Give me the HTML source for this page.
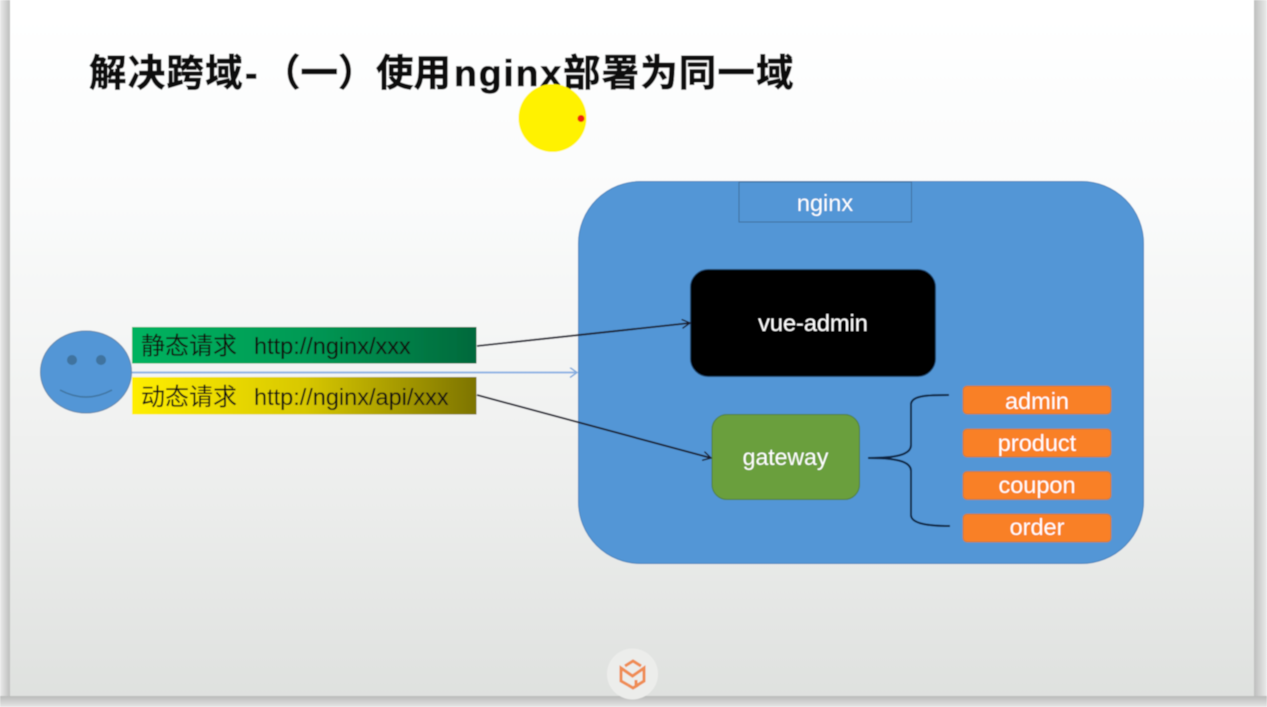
<!DOCTYPE html>
<html><head><meta charset="utf-8"><style>
html,body{margin:0;padding:0;width:1267px;height:707px;overflow:hidden;background:#fff}
svg{display:block}
text{font-family:"Liberation Sans","Noto Sans CJK SC",sans-serif}
</style></head><body>
<svg width="1267" height="707" viewBox="0 0 1267 707" xmlns="http://www.w3.org/2000/svg">
<defs>
<filter id="soft" x="0" y="0" width="100%" height="100%"><feGaussianBlur stdDeviation="0.45"/></filter>
<linearGradient id="bg" x1="0" y1="0" x2="0" y2="1"><stop offset="0" stop-color="#ffffff"/><stop offset=".25" stop-color="#fbfcfc"/><stop offset=".6" stop-color="#f1f2f1"/><stop offset="1" stop-color="#dfe1df"/></linearGradient>
<linearGradient id="sl" x1="0" x2="1" y1="0" y2="0"><stop offset="0" stop-color="#ebebeb"/><stop offset="1" stop-color="#bdbebd"/></linearGradient>
<linearGradient id="sr" x1="0" x2="1" y1="0" y2="0"><stop offset="0" stop-color="#bdbebd"/><stop offset="1" stop-color="#ebebeb"/></linearGradient>
<linearGradient id="sb" x1="0" x2="0" y1="0" y2="1"><stop offset="0" stop-color="#b9bab9"/><stop offset="1" stop-color="#e6e6e6"/></linearGradient>
<linearGradient id="g1" x1="0" x2="1" y1="0" y2="0"><stop offset="0" stop-color="#00b35f"/><stop offset=".5" stop-color="#019a55"/><stop offset="1" stop-color="#04693c"/></linearGradient>
<linearGradient id="g2" x1="0" x2="1" y1="0" y2="0"><stop offset="0" stop-color="#ffee00"/><stop offset=".5" stop-color="#d8c800"/><stop offset="1" stop-color="#7d7400"/></linearGradient>
<marker id="a" markerWidth="12" markerHeight="12" refX="10" refY="5" orient="auto" markerUnits="userSpaceOnUse"><path d="M2 0.5L10 5L2 9.5" fill="none" stroke="#1a1a2a" stroke-width="1.4"/></marker>
<marker id="b" markerWidth="12" markerHeight="12" refX="10" refY="5" orient="auto" markerUnits="userSpaceOnUse"><path d="M3 0L10 5L3 10" fill="none" stroke="#7ea8dc" stroke-width="1.4"/></marker>
</defs>
<g filter="url(#soft)">
<rect width="1267" height="707" fill="#e8e8e8"/>
<rect x="0" y="0" width="10" height="707" fill="url(#sl)"/>
<rect x="1254" y="0" width="13" height="707" fill="url(#sr)"/>
<rect x="0" y="696" width="1267" height="11" fill="url(#sb)"/>
<rect x="10" y="0" width="1244" height="696" fill="url(#bg)"/>

<text y="86" font-size="37.500" font-weight="700" fill="#0a0a0a" stroke="#0a0a0a" stroke-width=".6"><tspan x="89" letter-spacing="1.200">解决跨域</tspan><tspan x="245">-</tspan><tspan x="263">（一）</tspan><tspan x="376">使用</tspan><tspan x="454" letter-spacing="1.800">nginx</tspan><tspan x="563" letter-spacing="1.100">部署为同一域</tspan></text>

<ellipse cx="552.500" cy="118" rx="34" ry="34" fill="#fff200"/>
<circle cx="581" cy="118.500" r="3.500" fill="#f0240c"/>

<rect x="578.500" y="181.500" width="565" height="382" rx="62" fill="#5296d6" stroke="#4a84bd" stroke-width="1"/>
<rect x="739" y="182" width="172.500" height="40" fill="#5296d6" stroke="#3f6f9e" stroke-width="1"/>
<text x="825" y="211" font-size="23.500" fill="#fff" text-anchor="middle">nginx</text>

<rect x="690.500" y="269.500" width="245" height="107" rx="18" fill="#000" stroke="#1d3a5c"/>
<text x="813" y="331" font-size="23.500" fill="#fff" text-anchor="middle">vue-admin</text>

<rect x="712" y="414.500" width="147.500" height="85" rx="15" fill="#6a9f3e" stroke="#4f7f3a"/>
<text x="785.500" y="465" font-size="23" fill="#fff" text-anchor="middle">gateway</text>

<path d="M949 395C930 395 912 395 911 404V445C911 455 895 458 868 458C895 458 911 461 911 471V515C911 524 930 526 950 526" fill="none" stroke="#10233f" stroke-width="2"/>

<g fill="#f98025" stroke="#b97a45" stroke-width="1">
<rect x="963" y="386" width="148" height="28" rx="4"/>
<rect x="963" y="429" width="148" height="28" rx="4"/>
<rect x="963" y="471.500" width="148" height="28" rx="4"/>
<rect x="963" y="514" width="148" height="28" rx="4"/>
</g>
<g font-size="23.500" fill="#fff" text-anchor="middle">
<text x="1037" y="409">admin</text>
<text x="1037" y="451">product</text>
<text x="1037" y="493">coupon</text>
<text x="1037" y="535">order</text>
</g>

<ellipse cx="86" cy="372" rx="45.500" ry="41" fill="#5296d6" stroke="#5f86ad" stroke-width="1"/>
<circle cx="72" cy="360" r="5" fill="#41739f"/>
<circle cx="101" cy="360" r="5" fill="#41739f"/>
<path d="M60 390Q86 404 112 390" fill="none" stroke="#41739f" stroke-width="1.500"/>

<rect x="132" y="327" width="344.500" height="36.500" fill="url(#g1)"/>
<rect x="132" y="377" width="344.500" height="37.500" fill="url(#g2)"/>
<text y="354" font-size="24" fill="#0a0a0a"><tspan x="141">静态请求</tspan><tspan x="254" font-size="23.500">http://nginx/xxx</tspan></text>
<text y="405" font-size="24" fill="#0a0a0a"><tspan x="141">动态请求</tspan><tspan x="254" font-size="23.500">http://nginx/api/xxx</tspan></text>

<line x1="132" y1="372.500" x2="577" y2="372.500" stroke="#8fb4e3" stroke-width="2" marker-end="url(#b)"/>
<line x1="477" y1="346" x2="690" y2="323" stroke="#1a1a2a" stroke-width="1.800" marker-end="url(#a)"/>
<line x1="477" y1="395" x2="711" y2="458" stroke="#1a1a2a" stroke-width="1.800" marker-end="url(#a)"/>

<circle cx="632.500" cy="674" r="25.500" fill="#ecedeb"/>
<g fill="none" stroke="#ef8c52" stroke-width="3">
<path d="M625 666L633 661L641 666"/>
<path d="M628 685L621 681V668L632.500 676L644 668V681L636 686V680"/>
<path d="M628 685L633 688L638 685"/>
</g>
</g>
</svg>
</body></html>
